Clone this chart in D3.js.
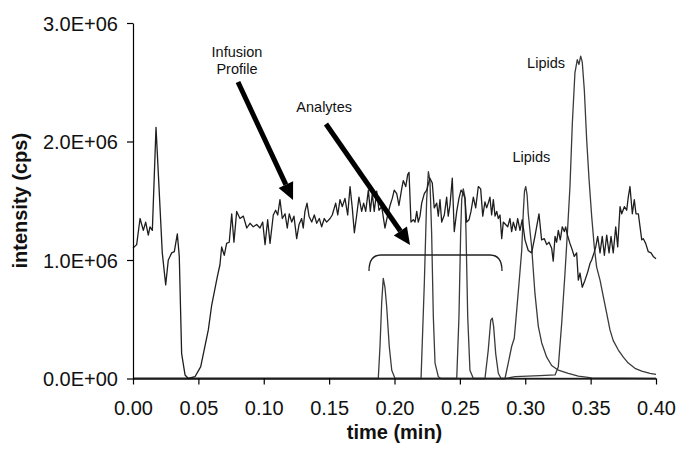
<!DOCTYPE html>
<html><head><meta charset="utf-8">
<script src="https://cdn.jsdelivr.net/npm/d3@7"></script>
<style>body{margin:0;background:#fff}svg{display:block}text{font-family:"Liberation Sans",Arial,sans-serif;fill:#111}</style>
</head><body><svg id="c" width="676" height="451"></svg>
<script>
// ---- data (time in min, intensity in 1E6 cps) ----
const xTicks = [0,0.05,0.10,0.15,0.20,0.25,0.30,0.35,0.40];
const xTickLabels = ["0.00","0.05","0.10","0.15","0.20","0.25","0.30","0.35","0.40"];
const yTicks = [0,1,2,3];
const yTickLabels = ["0.0E+00","1.0E+06","2.0E+06","3.0E+06"];

const infusionT = [0.0000,0.0028,0.0054,0.0079,0.0097,0.0117,0.0130,0.0148,0.0176,0.0224,0.0250,0.0270,0.0296,0.0316,0.0339,0.0354,0.0372,0.0398,0.0423,0.0474,0.0518,0.0576,0.0602,0.0645,0.0665,0.0678,0.0698,0.0716,0.0736,0.0755,0.0772,0.0793,0.0818,0.0844,0.0870,0.0895,0.0920,0.0946,0.0971,0.0992,0.1010,0.1030,0.1048,0.1073,0.1091,0.1107,0.1124,0.1142,0.1163,0.1180,0.1195,0.1214,0.1231,0.1252,0.1270,0.1290,0.1302,0.1315,0.1331,0.1346,0.1367,0.1387,0.1405,0.1425,0.1443,0.1463,0.1481,0.1507,0.1524,0.1550,0.1566,0.1583,0.1601,0.1621,0.1642,0.1660,0.1677,0.1693,0.1711,0.1728,0.1749,0.1764,0.1780,0.1800,0.1815,0.1830,0.1845,0.1864,0.1881,0.1902,0.1927,0.1948,0.1966,0.1983,0.1998,0.2017,0.2034,0.2055,0.2067,0.2086,0.2101,0.2111,0.2126,0.2144,0.2157,0.2170,0.2182,0.2195,0.2208,0.2228,0.2246,0.2271,0.2289,0.2304,0.2323,0.2335,0.2348,0.2361,0.2381,0.2399,0.2411,0.2424,0.2442,0.2457,0.2476,0.2493,0.2509,0.2526,0.2539,0.2552,0.2570,0.2585,0.2603,0.2621,0.2641,0.2659,0.2675,0.2692,0.2705,0.2717,0.2730,0.2743,0.2756,0.2769,0.2782,0.2794,0.2807,0.2820,0.2832,0.2850,0.2866,0.2883,0.2896,0.2909,0.2927,0.2942,0.2960,0.2977,0.2998,0.3023,0.3049,0.3074,0.3105,0.3125,0.3146,0.3164,0.3182,0.3202,0.3214,0.3228,0.3240,0.3253,0.3268,0.3283,0.3299,0.3309,0.3325,0.3342,0.3355,0.3375,0.3393,0.3406,0.3419,0.3436,0.3457,0.3478,0.3495,0.3508,0.3526,0.3539,0.3554,0.3572,0.3589,0.3605,0.3623,0.3641,0.3656,0.3673,0.3692,0.3707,0.3725,0.3738,0.3758,0.3776,0.3788,0.3801,0.3819,0.3834,0.3847,0.3865,0.3878,0.3891,0.3903,0.3921,0.3941,0.3962,0.3979,0.4000];
const infusionV = [1.10,1.13,1.35,1.25,1.32,1.21,1.28,1.25,2.12,1.06,0.79,1.00,1.06,1.07,1.22,1.03,0.21,0.03,0.00,0.015,0.10,0.41,0.62,0.86,0.96,1.11,1.04,1.14,1.15,1.39,1.15,1.41,1.35,1.37,1.27,1.31,1.28,1.30,1.27,1.32,1.13,1.34,1.14,1.38,1.42,1.38,1.51,1.35,1.39,1.27,1.39,1.32,1.37,1.18,1.30,1.35,1.27,1.41,1.48,1.37,1.32,1.38,1.31,1.35,1.28,1.35,1.32,1.35,1.38,1.48,1.38,1.51,1.45,1.52,1.38,1.62,1.44,1.23,1.38,1.53,1.41,1.48,1.41,1.59,1.41,1.56,1.41,1.58,1.42,1.45,1.27,1.38,1.46,1.52,1.59,1.56,1.46,1.60,1.67,1.62,1.72,1.74,1.32,1.34,1.32,1.41,1.32,1.37,1.48,1.56,1.59,1.69,1.65,1.44,1.48,1.37,1.51,1.32,1.38,1.53,1.37,1.46,1.69,1.24,1.41,1.52,1.59,1.56,1.52,1.32,1.34,1.41,1.53,1.44,1.62,1.60,1.37,1.49,1.44,1.48,1.53,1.38,1.51,1.37,1.41,1.35,1.38,1.18,1.32,1.30,1.28,1.35,1.24,1.32,1.25,1.35,1.25,1.34,1.17,1.08,1.06,1.20,1.39,1.17,1.18,1.13,1.15,1.10,0.99,1.20,1.15,1.25,1.17,1.28,1.24,1.28,1.20,1.14,1.10,1.03,1.06,0.83,0.89,0.77,0.83,0.90,0.97,1.00,1.06,1.11,1.20,1.06,1.20,1.04,1.21,1.06,1.20,1.06,1.28,1.11,1.45,1.39,1.45,1.42,1.53,1.62,1.39,1.51,1.39,1.39,1.28,1.17,1.18,1.14,1.07,1.06,1.03,1.01];

const analyteT = [0.0000,0.1876,0.1889,0.1902,0.1914,0.1927,0.1940,0.1960,0.1979,0.2004,0.2203,0.2228,0.2246,0.2259,0.2271,0.2284,0.2297,0.2310,0.2335,0.2356,0.2476,0.2493,0.2506,0.2514,0.2526,0.2539,0.2547,0.2560,0.2577,0.2603,0.2692,0.2717,0.2736,0.2748,0.2758,0.2774,0.2794,0.2815,0.4000];
const analyteV = [0,0,0.27,0.64,0.845,0.77,0.61,0.27,0.07,0,0,0.80,1.51,1.745,1.67,1.23,0.52,0.13,0.015,0,0,0.52,1.23,1.51,1.60,1.53,1.23,0.52,0.07,0,0,0.24,0.49,0.51,0.44,0.21,0.044,0,0];

const lipid1T = [0.0000,0.2845,0.2870,0.2896,0.2916,0.2935,0.2952,0.2973,0.2985,0.2994,0.3004,0.3014,0.3023,0.3049,0.3074,0.3100,0.3126,0.3164,0.3202,0.3253,0.3329,0.3406,0.3508,0.4000];
const lipid1V = [0,0,0.13,0.27,0.34,0.58,0.80,1.08,1.40,1.58,1.62,1.55,1.39,1.11,0.72,0.44,0.30,0.18,0.11,0.07,0.044,0.02,0.005,0];

const lipid2T = [0.0000,0.2845,0.2922,0.3113,0.3228,0.3253,0.3279,0.3304,0.3325,0.3342,0.3360,0.3380,0.3398,0.3411,0.3424,0.3436,0.3452,0.3470,0.3488,0.3508,0.3528,0.3546,0.3572,0.3597,0.3623,0.3648,0.3673,0.3712,0.3750,0.3788,0.3839,0.3891,0.3954,0.4000];
const lipid2V = [0,0,0.015,0.025,0.03,0.10,0.47,0.89,1.28,1.62,2.15,2.58,2.69,2.65,2.72,2.67,2.43,2.01,1.68,1.37,1.11,0.94,0.83,0.69,0.55,0.41,0.32,0.24,0.18,0.13,0.086,0.063,0.044,0.035];

// ---- chart ----
const svg = d3.select("#c");
const x = d3.scaleLinear().domain([0,0.40]).range([133,656]);
const y = d3.scaleLinear().domain([0,3]).range([378.5,23]);

const line = d3.line().x(d=>x(d[0])).y(d=>y(d[1]));
function draw(T,V,col){
  svg.append("path").datum(T.map((t,i)=>[t,V[i]]))
    .attr("d",line).attr("fill","none").attr("stroke",col)
    .attr("stroke-width",1.3).attr("stroke-linejoin","round");
}
draw(analyteT,analyteV,"#3a3a3a");
draw(lipid1T,lipid1V,"#3a3a3a");
draw(lipid2T,lipid2V,"#3a3a3a");
draw(infusionT,infusionV,"#1e1e1e");

// axes
const xa = svg.append("g").attr("transform",`translate(0,${y(0)})`)
  .call(d3.axisBottom(x).tickValues(xTicks).tickFormat((d,i)=>xTickLabels[i]).tickSize(6).tickSizeOuter(0));
const ya = svg.append("g").attr("transform",`translate(${x(0)},0)`)
  .call(d3.axisLeft(y).tickValues(yTicks).tickFormat((d,i)=>yTickLabels[i]).tickSize(6).tickSizeOuter(0));
[xa,ya].forEach(g=>{
  g.selectAll("path,line").attr("stroke","#000").attr("stroke-width",1.2);
  g.selectAll("text").attr("font-size",20).attr("font-family","Liberation Sans, Arial, sans-serif").attr("fill","#111");
});
xa.selectAll("text").attr("dy",null).attr("y",36.5);
ya.selectAll("text").attr("x",-15).attr("dy","0.36em");

svg.append("text").attr("x",(x(0)+x(0.4))/2).attr("y",439).attr("text-anchor","middle")
  .attr("font-size",20).attr("font-weight","bold").text("time (min)");
svg.append("text").attr("transform",`translate(27,${(y(0)+y(3))/2}) rotate(-90)`).attr("text-anchor","middle")
  .attr("font-size",20).attr("font-weight","bold").text("intensity (cps)");

// annotations (data coordinates)
function ann(t,v,s){
  svg.append("text").attr("x",x(t)).attr("y",y(v)).attr("text-anchor","middle")
    .attr("font-size",14.5).text(s);
}
ann(0.0795,2.715,"Infusion");
ann(0.0795,2.570,"Profile");
ann(0.1462,2.246,"Analytes");
ann(0.3159,2.617,"Lipids");
ann(0.3047,1.830,"Lipids");

function arrow(t0,v0,t1,v1){
  const x0=x(t0),y0=y(v0),x1=x(t1),y1=y(v1);
  const a=Math.atan2(y1-y0,x1-x0), L=17, W=8;
  const bx=x1-L*Math.cos(a), by=y1-L*Math.sin(a);
  svg.append("line").attr("x1",x0).attr("y1",y0).attr("x2",bx).attr("y2",by)
    .attr("stroke","#000").attr("stroke-width",5);
  const px=-Math.sin(a), py=Math.cos(a);
  svg.append("path").attr("d",`M${x1},${y1}L${bx+W*px},${by+W*py}L${bx-W*px},${by-W*py}Z`).attr("fill","#000");
}
arrow(0.0803,2.502,0.1224,1.506);
arrow(0.1476,2.148,0.2119,1.127);

// bracket
const bl=x(0.1805), br=x(0.2822), bt=y(1.042), bb=y(0.907);
svg.append("path").attr("d",`M${bl},${bb}Q${bl},${bt} ${bl+12},${bt}L${br-12},${bt}Q${br},${bt} ${br},${bb}`)
  .attr("fill","none").attr("stroke","#222").attr("stroke-width",1.3);
</script></body></html>
